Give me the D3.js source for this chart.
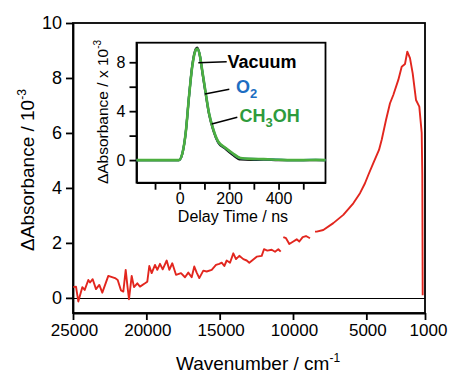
<!DOCTYPE html>
<html>
<head>
<meta charset="utf-8">
<script src="https://cdn.jsdelivr.net/npm/d3@7"></script>
<style>
  body { margin: 0; background: #fff; }
  svg { display: block; font-family: "Liberation Sans", Arial, sans-serif; }
  .axis path, .axis line { stroke: #000; stroke-width: 1.8; }
  .axis text { fill: #000; }
</style>
</head>
<body>
<script>
var width = 449;
var height = 373;

// main spectrum (wavenumber / cm-1, dAbs / 1e-3), null = gap in trace
var wavenumber = [24980, 24795, 24639, 24366, 24202, 23957, 23841, 23657, 23432, 23207,
    23002, 22593, 22136, 21952, 21727, 21570, 21407, 21298, 21182, 20998,
    20841, 20616, 20432, 20091, 19934, 19798, 19634, 19409, 19252, 19068,
    18884, 18611, 18434, 18230, 17977, 17636, 17364, 17139, 16907, 16730,
    16566, 16389, 16116, 15884, 15543, 15250, 15025, 14861, 14684, 14520,
    14295, 14070, 13886, 13661, 13389, 13157, 12980, 12748, 12475, 12134,
    11977, 11752, 11452, 11227, 11002, 10839, 10750, 10661, 10477, 10252,
    9980, 9748, 9570, 9339, 9114, 8841, 8700, 8500, 8384, 7934,
    7252, 6570, 5889, 5432, 5091, 4866, 4525, 4136, 3952, 3659,
    3386, 3161, 2820, 2589, 2364, 2207, 2023, 1839, 1614, 1389,
    1225, 1184, 1157];
var dAbs = [0.39, 0.41, -0.13, 0.39, 0.29, 0.65, 0.56, 0.68, 0.32, 0.47,
    0.19, 0.80, 0.72, 0.65, 0.27, 0.23, 1.02, 0.47, -0.05, 0.80,
    0.39, 0.53, 0.41, 0.53, 0.59, 1.16, 0.90, 1.20, 1.02, 1.24,
    1.04, 1.36, 1.02, 1.26, 0.84, 0.90, 0.75, 0.92, 0.75, 1.14,
    0.92, 0.72, 0.99, 0.96, 1.02, 1.20, 1.24, 1.28, 1.16, 1.36,
    1.28, 1.62, 1.41, 1.53, 1.41, 1.36, 1.28, 1.38, 1.50, 1.53,
    1.77, 1.72, 1.75, 1.68, 1.77, 1.68, null, 2.21, 2.17, 1.96,
    2.05, 2.13, 2.05, 2.21, 2.25, 2.17, null, 2.41, 2.41, 2.47,
    2.72, 3.02, 3.44, 3.81, 4.17, 4.47, 4.90, 5.38, 5.75, 6.47,
    7.08, 7.38, 7.93, 8.41, 8.51, 8.96, 8.72, 8.17, 7.20, 6.96,
    6.00, 4.50, 0.10];
var xTicks = [25000, 20000, 15000, 10000, 5000, 1000];
var yTicks = [0, 2, 4, 6, 8, 10];

// inset kinetics (delay time / ns, dAbs x 1e-3)
var delayTime = [-175, -100, -50, -3, 11, 24, 38, 51, 65, 71, 81, 92, 105, 118, 136, 155, 186, 213, 246, 287, 340, 400, 450, 500, 550, 590];
var vacuumAbs = [0, 0, 0, 0, 0.55, 2.2, 5.3, 7.8, 9.1, 9.2, 8.6, 7.1, 5.4, 3.8, 2.4, 1.45, 0.9, 0.45, 0.05, 0.02, 0.03, 0, 0, 0, 0, 0];
var o2Abs = [0, 0, 0, 0, 0.58, 2.2, 5.3, 7.7, 9.0, 9.1, 8.6, 7.2, 5.5, 3.9, 2.5, 1.5, 0.97, 0.55, 0.15, 0.1, 0.07, 0.03, 0, 0, 0.02, 0];
var ch3ohAbs = [0, 0, 0, 0, 0.58, 2.2, 5.3, 7.7, 9.0, 9.1, 8.6, 7.2, 5.5, 3.9, 2.5, 1.54, 0.99, 0.58, 0.17, 0.1, 0.08, 0.03, 0, 0, 0.02, 0];
var insetXTicks = [-100, 0, 100, 200, 300, 400, 500];
var insetYTicks = [0, 2, 4, 6, 8];

var svg = d3.select("body").append("svg")
    .attr("width", width)
    .attr("height", height);

// main scales
var xScale = d3.scaleLinear().domain([25000, 1000]).range([73, 425]);
var yScale = d3.scaleLinear().domain([-0.55, 10]).range([313, 23]);

// frame
svg.append("rect")
    .attr("x", 73).attr("y", 23)
    .attr("width", 352).attr("height", 290)
    .attr("fill", "none")
    .attr("stroke", "#000")
    .attr("stroke-width", 1.8);

// zero line
var zeroY = Math.round(yScale(0)) + 0.5;
svg.append("line")
    .attr("x1", xScale(25000)).attr("x2", xScale(1000))
    .attr("y1", zeroY).attr("y2", zeroY)
    .attr("stroke", "#000")
    .attr("stroke-width", 1);

var xAxis = d3.axisBottom(xScale).tickValues(xTicks).tickSize(7).tickSizeOuter(0)
    .tickPadding(4).tickFormat(d3.format("d"));
var yAxis = d3.axisLeft(yScale).tickValues(yTicks).tickSize(7).tickSizeOuter(0)
    .tickPadding(4).tickFormat(d3.format("d"));

svg.append("g")
    .attr("class", "axis")
    .attr("transform", "translate(0,313)")
    .call(xAxis)
    .selectAll("text")
    .style("font-size", "17px")
    .attr("dx", function(d) { return d === 1000 ? 3 : 1; });

svg.append("g")
    .attr("class", "axis")
    .attr("transform", "translate(73,0)")
    .call(yAxis)
    .selectAll("text")
    .style("font-size", "18px");

// spectrum
var spectrum = wavenumber.map(function(w, i) { return { x: w, y: dAbs[i] }; });
var line = d3.line()
    .defined(function(d) { return d.y !== null; })
    .x(function(d) { return xScale(d.x); })
    .y(function(d) { return yScale(d.y); });

svg.append("path")
    .datum(spectrum)
    .attr("d", line)
    .attr("fill", "none")
    .attr("stroke", "#e2261e")
    .attr("stroke-width", 1.9)
    .attr("stroke-linejoin", "round");

// axis titles
var xTitle = svg.append("text")
    .attr("x", 258).attr("y", 370)
    .attr("text-anchor", "middle")
    .style("font-size", "19px");
xTitle.append("tspan").text("Wavenumber / cm");
xTitle.append("tspan").attr("dy", -8).style("font-size", "12px").text("-1");

var yTitle = svg.append("text")
    .attr("transform", "translate(34,170) rotate(-90)")
    .attr("text-anchor", "middle")
    .style("font-size", "19px");
yTitle.append("tspan").text("\u0394Absorbance / 10");
yTitle.append("tspan").attr("dy", -8).style("font-size", "12px").text("-3");

/////////////////////////////////////////////////////////////////
// inset

var ixScale = d3.scaleLinear().domain([-175, 590]).range([136.5, 325.5]);
var iyScale = d3.scaleLinear().domain([-1.85, 9.6]).range([182.7, 42.7]);

svg.append("rect")
    .attr("x", 136.5).attr("y", 42.7)
    .attr("width", 189).attr("height", 140)
    .attr("fill", "#fff")
    .attr("stroke", "#000")
    .attr("stroke-width", 1.8);

var ixAxis = d3.axisBottom(ixScale).tickValues(insetXTicks).tickSize(7).tickSizeOuter(0)
    .tickPadding(3)
    .tickFormat(function(d) { return d % 200 === 0 ? d : ""; });
var iyAxis = d3.axisLeft(iyScale).tickValues(insetYTicks).tickSize(7).tickSizeOuter(0)
    .tickPadding(4)
    .tickFormat(function(d) { return d % 4 === 0 ? d : ""; });

svg.append("g")
    .attr("class", "axis")
    .attr("transform", "translate(0,182.7)")
    .call(ixAxis)
    .selectAll("text")
    .style("font-size", "16px");

svg.append("g")
    .attr("class", "axis")
    .attr("transform", "translate(136.5,0)")
    .call(iyAxis)
    .selectAll("text")
    .style("font-size", "16px");

var kinLine = d3.line()
    .x(function(d) { return ixScale(d.x); })
    .y(function(d) { return iyScale(d.y); })
    .curve(d3.curveMonotoneX);

var traces = [
    { vals: vacuumAbs, color: "#111", w: 2.2 },
    { vals: o2Abs, color: "#1f6fc1", w: 2.2 },
    { vals: ch3ohAbs, color: "#4cae3f", w: 2.6 }
];
traces.forEach(function(t) {
    svg.append("path")
        .datum(delayTime.map(function(d, i) { return { x: d, y: t.vals[i] }; }))
        .attr("d", kinLine)
        .attr("fill", "none")
        .attr("stroke", t.color)
        .attr("stroke-width", t.w)
        .attr("stroke-linejoin", "round");
});

// leader lines + labels
var leaders = [[198.3, 62.7, 226.7, 61.7], [205, 94, 229.3, 89.3], [211.7, 124, 237.3, 117.3]];
leaders.forEach(function(l) {
    svg.append("line")
        .attr("x1", l[0]).attr("y1", l[1]).attr("x2", l[2]).attr("y2", l[3])
        .attr("stroke", "#000").attr("stroke-width", 1.5);
});

svg.append("text")
    .attr("x", 227.5).attr("y", 67.5)
    .style("font-size", "18px").style("font-weight", "bold")
    .attr("fill", "#000")
    .text("Vacuum");

var o2Label = svg.append("text")
    .attr("x", 236).attr("y", 92.5)
    .style("font-size", "18px").style("font-weight", "bold")
    .attr("fill", "#1c6ec2");
o2Label.append("tspan").text("O");
o2Label.append("tspan").attr("dy", 5).style("font-size", "13px").text("2");

var mLabel = svg.append("text")
    .attr("x", 239.5).attr("y", 121.5)
    .style("font-size", "18px").style("font-weight", "bold")
    .attr("fill", "#2e9b3c");
mLabel.append("tspan").text("CH");
mLabel.append("tspan").attr("dy", 5).style("font-size", "13px").text("3");
mLabel.append("tspan").attr("dy", -5).text("OH");

svg.append("text")
    .attr("x", 233).attr("y", 222)
    .attr("text-anchor", "middle")
    .style("font-size", "16px")
    .text("Delay Time / ns");

var iyTitle = svg.append("text")
    .attr("transform", "translate(108,112) rotate(-90)")
    .attr("text-anchor", "middle")
    .style("font-size", "15.5px");
iyTitle.append("tspan").text("\u0394Absorbance / x 10");
iyTitle.append("tspan").attr("dy", -7).style("font-size", "10px").text("-3");
</script>
</body>
</html>
